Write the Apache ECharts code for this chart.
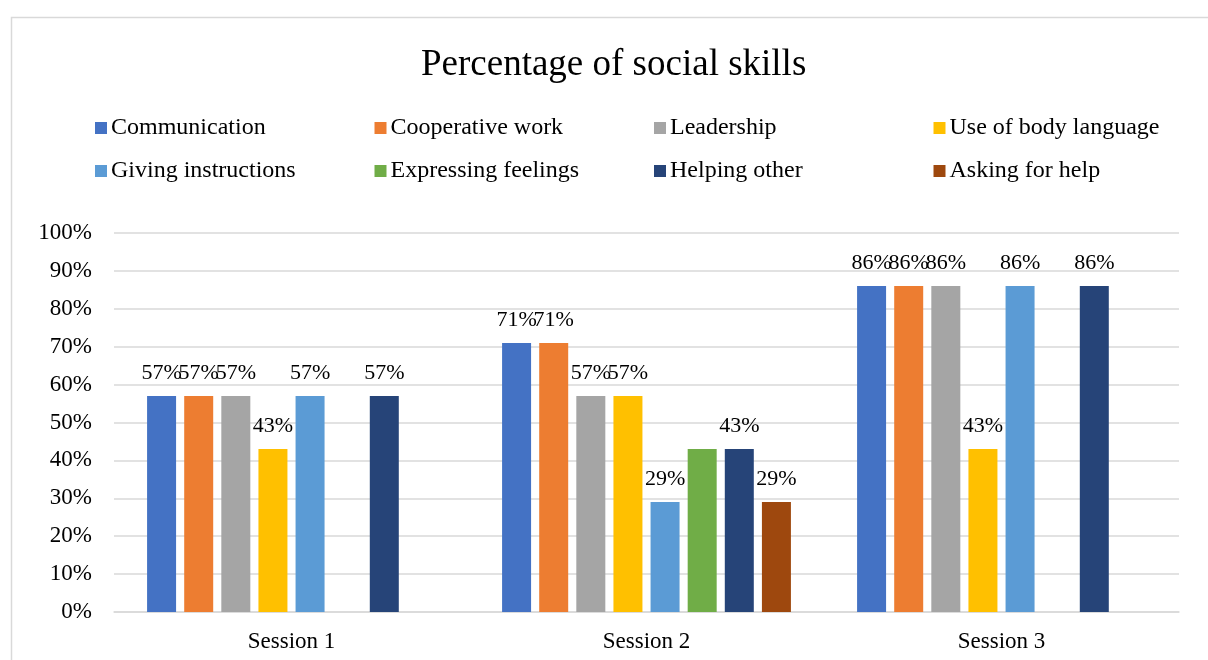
<!DOCTYPE html>
<html>
<head>
<meta charset="utf-8">
<script src="https://cdn.jsdelivr.net/npm/echarts@6/dist/echarts.min.js"></script>
<style>
  html, body { margin: 0; padding: 0; background: #fff; }
  #chart { width: 1208px; height: 660px; }
</style>
</head>
<body>
<div id="chart"></div>
<script>
const sessions = ["Session 1", "Session 2", "Session 3"];
const skills = [
  "Communication", "Cooperative work", "Leadership", "Use of body language",
  "Giving instructions", "Expressing feelings", "Helping other", "Asking for help",
];
const colors = ["#4472C4", "#ED7D31", "#A5A5A5", "#FFC000", "#5B9BD5", "#70AD47", "#264478", "#9E480E"];

// percent per skill, one value per session ("-" = no bar)
const communication = [57, 71, 86];
const cooperativeWork = [57, 71, 86];
const leadership = [57, 57, 86];
const bodyLanguage = [43, 57, 43];
const givingInstructions = [57, 29, 86];
const expressingFeelings = ["-", 43, "-"];
const helpingOther = [57, 43, 86];
const askingForHelp = ["-", 29, "-"];

const values = [
  communication, cooperativeWork, leadership, bodyLanguage,
  givingInstructions, expressingFeelings, helpingOther, askingForHelp,
];
const yTicks = [0, 10, 20, 30, 40, 50, 60, 70, 80, 90, 100];

const font = "'Liberation Serif', 'Times New Roman', serif";
const chart = echarts.init(document.getElementById("chart"));

// 图例: 两行四列固定位置
const legends = skills.map((name, i) => ({
  data: [name],
  left: 95 + (i % 4) * 279.5,
  top: i < 4 ? 116 : 159,
  padding: 0,
  itemWidth: 12,
  itemHeight: 12,
  icon: "rect",
  textStyle: { fontFamily: font, fontSize: 24, color: "#000", padding: [0, 0, 0, -1] },
}));

const series = skills.map((name, i) => ({
  name,
  type: "bar",
  barWidth: 29,
  barGap: "28%",
  itemStyle: { color: colors[i] },
  label: {
    show: name !== "Expressing feelings",
    position: "top",
    distance: 12,
    formatter: "{c}%",
    fontFamily: font,
    fontSize: 22,
    color: "#000",
  },
  data: values[i],
}));

const option = {
  animation: false,
  color: colors,
  title: {
    text: "Percentage of social skills",
    left: 416,
    top: 42,
    textStyle: { fontFamily: font, fontSize: 37, fontWeight: "normal", color: "#000" },
  },
  legend: legends,
  grid: { left: 114, right: 29, top: 233, bottom: 48 },
  xAxis: {
    type: "category",
    data: sessions,
    axisLine: { lineStyle: { color: "#d9d9d9", width: 1.5 } },
    axisTick: { show: false },
    axisLabel: { fontFamily: font, fontSize: 23, color: "#000", margin: 18 },
  },
  yAxis: {
    type: "value",
    min: yTicks[0],
    max: yTicks[yTicks.length - 1],
    interval: 10,
    axisLine: { show: false },
    axisTick: { show: false },
    splitLine: { lineStyle: { color: "#d9d9d9", width: 1.5 } },
    axisLabel: { fontFamily: font, fontSize: 23, color: "#000", margin: 22, formatter: "{value}%" },
  },
  graphic: [
    {
      type: "rect",
      shape: { x: 11.5, y: 17.5, width: 1400, height: 900 },
      style: { fill: "none", stroke: "#d9d9d9", lineWidth: 1.5 },
      silent: true,
    },
  ],
  series,
};

chart.setOption(option);
</script>
</body>
</html>
